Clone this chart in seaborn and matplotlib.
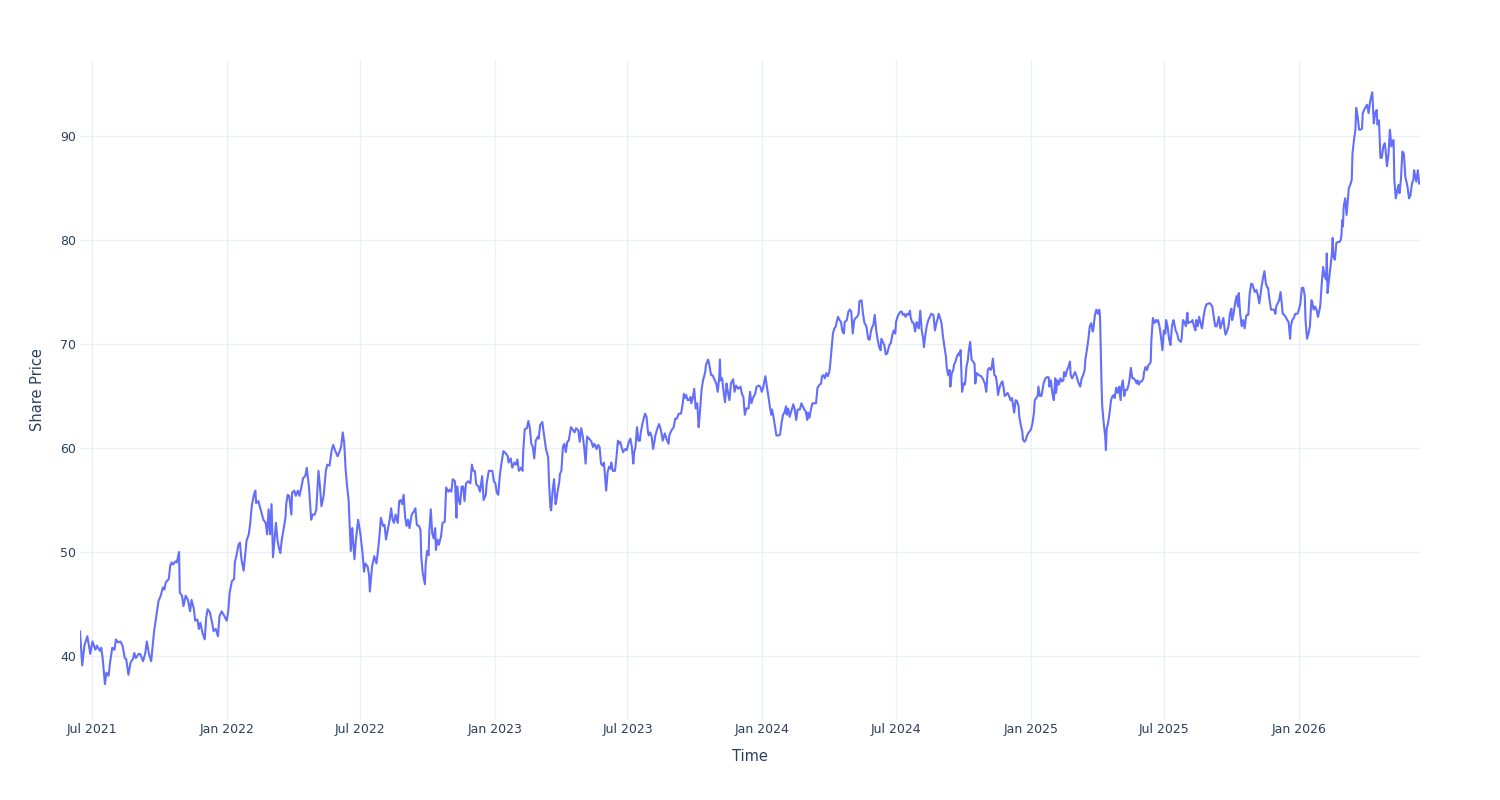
import pandas as pd
import matplotlib

matplotlib.use('Agg')
import matplotlib.pyplot as plt
import matplotlib.dates as mdates
import seaborn as sns

# first trading day shown on the chart
start_date = "2021-06-15"

# days since start_date
day_offsets = [
    0, 3, 6, 10, 14, 17, 21, 23, 27, 29, 31, 34, 36, 39, 41, 44, 47, 49, 52, 55,
    58, 61, 63, 66, 69, 72, 74, 76, 80, 82, 86, 89, 91, 94, 97, 100, 101, 105, 107, 110,
    113, 115, 117, 121, 123, 125, 127, 130, 132, 135, 136, 139, 141, 144, 147, 150, 152, 155, 157, 160,
    162, 164, 167, 170, 172, 174, 177, 180, 182, 185, 188, 190, 193, 197, 200, 202, 204, 207, 210, 211,
    213, 216, 218, 220, 223, 225, 227, 230, 232, 234, 237, 239, 240, 243, 246, 248, 250, 253, 255, 257,
    259, 261, 263, 265, 267, 269, 271, 273, 275, 277, 280, 281, 283, 285, 288, 289, 292, 294, 297, 299,
    301, 304, 307, 309,
    312, 315, 317, 320, 322, 325, 327, 329, 332, 335, 337, 340, 343, 345, 348, 351, 354, 356, 358, 360,
    362, 364, 366, 368, 369, 371, 372, 374, 376, 379, 382, 385, 387, 389, 392, 394, 395, 398, 401, 404,
    406, 408, 410, 413, 415, 417, 419, 422, 424, 426, 428, 430, 433, 435, 437, 439, 441, 443, 445, 447,
    449, 452, 455, 457, 459, 462, 464, 465, 467, 470, 471, 473, 475, 476, 478, 480, 482, 484, 485, 487,
    489, 492, 494, 497, 499, 502, 504, 506, 508, 511, 513, 514, 516, 518, 520, 522, 524, 526, 529, 532,
    534, 536, 538, 540, 543, 545, 548, 550, 553, 554, 557, 560, 562, 564, 566, 568, 570, 572, 574, 577,
    580, 583, 584, 587, 589, 592, 594, 596, 598, 601, 603, 604, 606, 609, 611,
    613, 615, 617, 619, 621, 624, 625, 627, 630, 632, 634, 635, 638, 639, 641, 642, 644, 646, 648, 649,
    651, 653, 654, 656, 658, 660, 662, 664, 666, 669, 672, 674, 676, 679, 681, 683, 685, 687, 689, 691,
    693, 694, 697, 699, 701, 704, 706, 708, 710, 712, 714, 715, 717, 719, 721, 723, 724, 726, 729, 731,
    733, 734, 736, 738, 740, 743, 745, 748, 750, 752, 754, 755, 757, 759, 761, 763, 764, 766, 768, 770,
    772, 774, 775, 777, 779, 781, 783, 784, 786, 789, 791, 793, 794, 797, 799, 802, 803, 806, 809, 811,
    813, 816, 819, 821, 823, 824, 826, 828, 830, 832, 833, 835, 837, 839, 841, 842, 843, 845, 847, 849,
    852, 853, 856, 858, 860, 862, 865, 867, 869, 871, 872, 873, 875, 877, 879, 881, 882, 885, 887, 890,
    892, 894, 897, 900, 902, 904, 906, 908, 911, 913, 915, 917, 920, 922, 925,
    927, 929, 931, 932, 934, 936, 938, 940, 942, 943, 945, 947, 949, 952, 954, 956, 958, 960, 962, 963,
    965, 967, 970, 972, 974, 976, 978, 981, 983, 985, 987, 989, 991, 992, 994, 996, 998, 1001, 1003, 1005,
    1008, 1010, 1011, 1013, 1015, 1017, 1019, 1021, 1022, 1024, 1026, 1028, 1030, 1031, 1033, 1035, 1037, 1039, 1041, 1042,
    1045, 1047, 1049, 1051, 1052, 1053, 1055, 1057, 1059, 1061, 1062, 1065, 1067, 1069, 1071, 1072, 1074, 1076, 1078, 1080,
    1081, 1083, 1085, 1087, 1089, 1091, 1092, 1094, 1096, 1098, 1100, 1101, 1103, 1105, 1107, 1109, 1111, 1112, 1114, 1116,
    1118, 1120, 1121, 1123, 1125, 1127, 1129, 1131, 1132, 1134, 1136, 1138, 1140, 1141, 1143, 1145, 1147, 1149, 1150, 1152,
    1154, 1156, 1158, 1160, 1163, 1165, 1167, 1169, 1170, 1172, 1174, 1176, 1178, 1180, 1181, 1183, 1185, 1186, 1188, 1190,
    1191, 1193, 1195, 1197, 1199, 1200, 1202, 1204, 1206, 1208, 1210, 1211, 1213, 1215, 1217, 1219, 1220, 1222, 1225, 1228,
    1230, 1233, 1235, 1237, 1239,
    1241, 1242, 1244, 1246, 1248, 1250, 1251, 1253, 1255, 1257, 1259, 1260, 1262, 1264, 1266, 1268, 1270, 1271, 1273, 1275,
    1277, 1279, 1280, 1282, 1284, 1285, 1287, 1289, 1290, 1292, 1294, 1296, 1298, 1300, 1301, 1303, 1305, 1306, 1308, 1310,
    1311, 1313, 1315, 1317, 1320, 1321, 1323, 1325, 1327, 1329, 1330, 1332, 1334, 1336, 1338, 1340, 1341, 1343, 1345, 1347,
    1349, 1350, 1352, 1354, 1356, 1358, 1360, 1361, 1363, 1365, 1367, 1369, 1370, 1372, 1374, 1376, 1378, 1380, 1381, 1383,
    1385, 1387, 1389, 1390, 1391, 1392, 1393, 1395, 1397, 1398, 1399, 1400, 1401, 1403, 1405, 1407, 1409, 1410, 1412, 1414,
    1416, 1418, 1419, 1421, 1423, 1425, 1427, 1429, 1430, 1432, 1434, 1436, 1438, 1440, 1441, 1443, 1445, 1447, 1449, 1450,
    1452, 1454, 1456, 1458, 1459, 1460, 1462, 1464, 1466, 1468, 1469, 1471, 1473, 1475, 1477, 1479, 1480, 1482, 1484, 1486,
    1488, 1490, 1491, 1493, 1495, 1497, 1500, 1501, 1503, 1505, 1507, 1509, 1510, 1512, 1514, 1516, 1518, 1520, 1521, 1523,
    1525,
    1528, 1529, 1531, 1533, 1535, 1538, 1540, 1543, 1545, 1547, 1549, 1550, 1552, 1554, 1556, 1558, 1560, 1561, 1563, 1565,
    1567, 1569, 1570, 1572, 1574, 1576, 1578, 1579, 1581, 1583, 1585, 1587, 1589, 1590, 1592, 1594, 1596, 1598, 1599, 1601,
    1603, 1605, 1607, 1609, 1610, 1612, 1614, 1616, 1618, 1619, 1621, 1623, 1625, 1627, 1629, 1630, 1632, 1634, 1636, 1638,
    1639, 1641, 1643, 1645, 1647, 1649, 1650, 1652, 1654, 1656, 1658, 1659, 1661, 1663, 1665, 1667, 1669, 1670, 1672, 1674,
    1676, 1678, 1679, 1681, 1683, 1685, 1687, 1689, 1690, 1692, 1694, 1696, 1698, 1699, 1700, 1702, 1704, 1706, 1707, 1708,
    1710, 1712, 1714, 1716, 1718, 1719, 1720, 1721, 1722, 1724, 1726, 1728, 1729, 1731, 1733, 1734, 1736, 1738, 1739, 1741,
    1743, 1745, 1747, 1748, 1750, 1752, 1754, 1756, 1758, 1759, 1761, 1763, 1765, 1767, 1768, 1770, 1771, 1772, 1774, 1776,
    1778, 1779, 1781, 1783, 1785, 1787, 1788, 1790, 1791, 1793, 1795, 1797, 1798, 1800, 1802, 1804, 1806, 1808, 1809, 1811,
    1813, 1815, 1817, 1818, 1819, 1821, 1823, 1825, 1826,
]

share_price = [
    42.4, 39.1, 41.0, 41.9, 40.2, 41.4, 40.6, 41.0, 40.5, 40.8, 39.7, 37.3, 38.4, 38.1, 39.4, 40.8, 40.6, 41.6, 41.3, 41.4,
    41.0, 39.8, 39.7, 38.2, 39.4, 39.7, 40.3, 39.8, 40.2, 40.2, 39.5, 40.3, 41.4, 40.2, 39.5, 41.6, 42.4, 44.3, 45.3, 45.8,
    46.6, 46.4, 47.1, 47.4, 48.7, 49.0, 48.8, 49.1, 49.0, 50.0, 46.1, 45.8, 44.8, 45.8, 45.4, 44.3, 45.4, 44.6, 43.4, 43.5,
    42.6, 43.2, 42.2, 41.6, 43.7, 44.5, 44.2, 43.2, 42.4, 42.6, 41.9, 43.8, 44.3, 43.8, 43.4, 44.3, 46.1, 47.2, 47.4, 49.0,
    49.6, 50.7, 50.9, 49.3, 48.2, 49.6, 51.1, 51.7, 52.8, 54.4, 55.5, 55.9, 54.7, 54.9, 54.1, 53.6, 53.1, 52.8, 51.7, 54.1,
    51.7, 54.6, 49.5, 51.2, 52.8, 51.2, 50.4, 49.9, 51.2, 52.0, 53.3, 54.6, 55.5, 55.4, 53.6, 55.7, 55.9, 55.4, 55.9, 55.4,
    56.0, 57.1, 57.3, 58.1,
    56.3, 53.1, 53.6, 53.6, 54.1, 57.8, 56.3, 54.4, 55.4, 57.8, 58.4, 58.3, 59.8, 60.3, 59.7, 59.2, 59.7, 60.2, 61.5, 60.5,
    57.9, 56.3, 55.0, 51.8, 50.1, 52.3, 51.2, 49.3, 51.2, 53.1, 51.8, 49.9, 48.1, 48.9, 48.6, 47.7, 46.2, 48.6, 49.6, 48.9,
    50.1, 51.5, 53.3, 52.5, 52.6, 51.2, 52.0, 53.1, 54.2, 53.1, 52.8, 53.6, 52.8, 54.9, 55.0, 54.6, 55.5, 53.4, 52.5, 53.1,
    52.3, 53.6, 53.9, 54.2, 52.6, 52.5, 52.1, 49.6, 48.0, 46.9, 48.8, 50.1, 49.7, 52.0, 54.1, 51.8, 51.3, 52.3, 50.2, 51.2,
    50.7, 51.5, 52.8, 52.9, 56.2, 55.8, 56.0, 55.8, 57.0, 56.8, 53.3, 56.3, 55.0, 54.6, 56.3, 56.3, 54.9, 56.6, 56.8, 56.6,
    58.4, 57.8, 57.8, 56.5, 56.3, 55.8, 57.3, 55.0, 55.5, 56.5, 57.8, 57.8, 57.8, 56.8, 56.6, 55.7, 55.5, 57.3, 58.4, 59.7,
    59.5, 59.2, 58.6, 59.0, 58.1, 58.6, 58.4, 58.9, 57.8, 58.1, 57.8, 59.7, 61.8, 61.9, 62.6,
    61.9, 60.4, 60.1, 59.0, 60.7, 61.1, 60.9, 62.2, 62.5, 61.4, 60.4, 59.9, 59.1, 56.9, 54.3, 54.0, 55.9, 57.0, 54.6, 54.9,
    55.9, 56.7, 57.5, 57.8, 60.1, 60.4, 59.6, 60.6, 60.7, 62.0, 61.7, 61.5, 61.9, 61.7, 60.6, 61.9, 61.2, 60.1, 58.5, 61.1,
    60.9, 60.9, 60.6, 60.1, 60.4, 59.9, 60.3, 60.1, 58.5, 58.3, 58.6, 57.7, 55.9, 57.7, 58.2, 58.0, 58.6, 57.8, 57.8, 59.1,
    60.7, 60.4, 60.6, 60.1, 59.6, 59.9, 59.8, 60.6, 60.9, 60.1, 58.5, 59.5, 60.1, 62.0, 60.7, 60.7, 61.4, 62.2, 62.8, 63.3,
    63.0, 61.5, 61.2, 61.5, 61.1, 59.9, 60.7, 61.2, 61.7, 62.3, 61.9, 61.2, 60.7, 61.4, 60.9, 60.4, 61.2, 61.7, 62.0, 62.8,
    62.8, 63.3, 63.3, 64.1, 65.2, 64.8, 65.1, 64.6, 64.6, 64.9, 64.3, 64.8, 65.7, 63.8, 64.3, 63.3, 62.0, 63.6, 65.6, 66.5,
    67.3, 68.0, 68.5, 67.8, 67.0, 67.0, 66.5, 66.2, 65.4, 66.7, 68.5, 66.5, 66.7, 65.4, 64.4, 66.2, 65.7, 64.6, 66.2, 66.6,
    65.4, 66.0, 65.7, 65.9, 65.2, 64.9, 63.2, 63.8, 63.8, 65.4, 64.3, 64.8, 65.2, 65.9, 66.0,
    65.9, 65.4, 65.8, 66.2, 66.9, 65.9, 65.0, 64.0, 63.2, 63.7, 63.0, 62.1, 61.2, 61.2, 61.3, 62.4, 63.2, 63.4, 64.0, 63.2,
    63.8, 63.0, 63.7, 64.2, 63.7, 62.7, 63.7, 63.7, 64.3, 64.0, 63.7, 63.5, 62.7, 63.4, 62.9, 63.7, 64.3, 64.3, 64.3, 65.8,
    66.1, 66.2, 66.9, 67.0, 66.7, 67.2, 66.9, 67.3, 67.8, 69.4, 71.0, 71.5, 71.7, 72.1, 72.6, 72.3, 72.1, 71.2, 71.0, 72.1,
    72.3, 73.1, 73.3, 73.1, 72.1, 71.0, 72.3, 72.5, 72.6, 72.9, 74.1, 74.2, 72.9, 72.0, 71.8, 71.5, 70.5, 70.4, 71.3, 71.7,
    71.8, 72.8, 71.3, 70.4, 69.7, 69.4, 70.5, 70.2, 69.9, 69.0, 69.1, 69.4, 69.9, 70.1, 70.9, 71.3, 71.0, 72.1, 72.6, 72.9,
    73.1, 73.1, 72.8, 72.9, 72.6, 72.9, 72.8, 73.2, 72.5, 72.1, 72.0, 71.2, 72.1, 72.0, 71.5, 73.2, 71.3, 70.5, 69.7, 70.9,
    71.8, 72.3, 72.6, 72.9, 72.8, 71.3, 72.0, 72.5, 72.9, 72.5, 72.0, 70.7, 69.7, 68.8, 67.8, 67.0, 67.5, 65.9, 67.2, 67.5,
    68.0, 68.3, 68.8, 69.1, 68.9, 69.4, 65.4, 66.2, 66.1, 67.8, 68.5, 69.3, 70.2, 68.5, 68.3, 68.1, 66.2, 67.2, 67.0, 66.9,
    66.7, 66.2, 65.4, 67.5, 67.7,
    67.5, 67.6, 68.6, 67.0, 66.9, 65.9, 65.1, 65.8, 66.2, 66.4, 65.6, 65.0, 65.1, 65.3, 65.0, 64.6, 64.8, 64.3, 63.4, 64.6,
    64.5, 64.0, 63.0, 62.2, 61.6, 60.8, 60.6, 60.8, 61.1, 61.4, 61.6, 61.8, 62.4, 63.4, 64.6, 64.8, 65.0, 65.9, 65.0, 65.0,
    65.3, 66.2, 66.6, 66.8, 66.8, 65.9, 66.5, 65.3, 64.6, 66.7, 65.3, 66.5, 66.1, 66.7, 66.4, 66.5, 67.3, 66.9, 67.5, 67.8,
    68.3, 67.0, 66.7, 67.0, 67.3, 66.9, 66.4, 66.2, 65.9, 66.7, 67.0, 67.5, 68.5, 69.4, 70.4, 71.7, 72.0, 71.2, 71.5, 72.8,
    73.3, 72.9, 73.3, 72.6, 69.4, 66.2, 64.0, 62.4, 61.1, 59.8, 61.8, 62.1, 62.4, 63.4, 64.6, 65.0, 65.1, 64.8, 65.8, 65.3,
    65.9, 64.6, 65.8, 66.5, 65.0, 65.6, 65.6, 66.1, 66.5, 67.7, 66.7, 66.7, 66.5, 66.2, 66.5, 66.1, 66.4, 66.4, 66.7, 67.3,
    67.8, 67.5, 68.0, 68.1, 68.3, 70.4, 72.5, 72.0, 72.3, 72.1, 72.3, 71.7, 70.7, 69.4, 71.3, 71.0, 72.3, 71.7, 70.5, 69.9,
    71.7, 72.3, 72.0, 71.3, 71.0, 70.4, 70.2, 70.4, 72.3, 72.1, 71.7, 73.0, 72.0, 72.1, 72.1, 72.3, 71.7, 71.3, 72.3, 71.7,
    72.6,
    71.7, 71.5, 72.6, 73.4, 73.8, 73.9, 73.9, 73.6, 72.6, 71.7, 71.7, 72.0, 72.6, 71.5, 72.0, 72.5, 71.3, 70.9, 71.2, 71.7,
    72.9, 73.4, 72.3, 72.9, 73.9, 74.6, 73.6, 74.9, 72.9, 71.7, 72.3, 71.5, 72.6, 72.8, 72.8, 74.9, 75.8, 75.7, 75.4, 75.0,
    75.2, 74.7, 73.9, 74.9, 75.5, 76.3, 77.0, 75.8, 75.4, 75.4, 74.2, 73.3, 73.3, 73.3, 72.9, 73.6, 73.9, 74.2, 75.0, 73.6,
    72.9, 72.8, 72.6, 72.3, 72.1, 70.5, 71.7, 72.3, 72.5, 72.9, 72.9, 72.9, 73.3, 73.9, 75.4, 75.4, 74.6, 72.3, 70.5, 71.0,
    71.7, 74.2, 74.1, 73.3, 73.6, 73.3, 72.6, 73.3, 73.6, 75.7, 77.4, 76.5, 76.2, 78.7, 74.9, 76.2, 77.4, 78.7, 80.2, 78.4,
    78.1, 79.7, 79.8, 79.8, 80.0, 80.5, 81.9, 81.3, 83.2, 84.0, 82.4, 84.2, 85.0, 85.3, 85.8, 88.3, 89.6, 90.6, 92.7, 91.9,
    90.6, 90.6, 90.7, 92.2, 92.5, 92.8, 93.0, 92.2, 93.3, 93.6, 94.2, 91.2, 92.2, 92.5, 91.1, 91.5, 89.9, 87.9, 87.9, 89.0,
    89.3, 88.7, 87.1, 88.2, 90.6, 89.0, 89.5, 89.6, 85.8, 84.0, 84.8, 85.3, 84.5, 85.8, 88.5, 88.3, 86.1, 85.4, 85.1, 84.0,
    84.3, 85.4, 85.8, 86.7, 86.3, 85.6, 86.7, 85.4, 85.5,
]

y_ticks = [40, 50, 60, 70, 80, 90]

dates = pd.Timestamp(start_date) + pd.to_timedelta(day_offsets, unit="D")
df = pd.DataFrame({"Time": dates, "Share Price": share_price})

sns.set_style("white")
text_color = "#2a3f5f"
grid_color = "#ebf0f8"

fig = plt.figure(figsize=(15, 8), dpi=100)
ax = fig.add_axes([80 / 1500, 80 / 800, 1340 / 1500, 660 / 800])

sns.lineplot(data=df, x="Time", y="Share Price", ax=ax, color="#636efa",
             linewidth=1.5, estimator=None, sort=False)

ax.set_xlim(df["Time"].min(), df["Time"].max())
ax.set_ylim(33.85, 97.3)
ax.set_yticks(y_ticks)
ax.xaxis.set_major_locator(mdates.MonthLocator(bymonth=[1, 7]))
ax.xaxis.set_major_formatter(mdates.DateFormatter("%b %Y"))

ax.grid(True, color=grid_color, linewidth=1)
ax.set_axisbelow(True)
for s in ax.spines.values():
    s.set_visible(False)
ax.tick_params(axis="both", length=0, labelsize=9, labelcolor=text_color)
ax.tick_params(axis="x", pad=2.5)
ax.tick_params(axis="y", pad=3)

ax.set_xlabel("Time", fontsize=10.5, color=text_color, labelpad=9)
ax.set_ylabel("Share Price", fontsize=10.5, color=text_color, labelpad=11)

plt.savefig("out.png", dpi=100)
